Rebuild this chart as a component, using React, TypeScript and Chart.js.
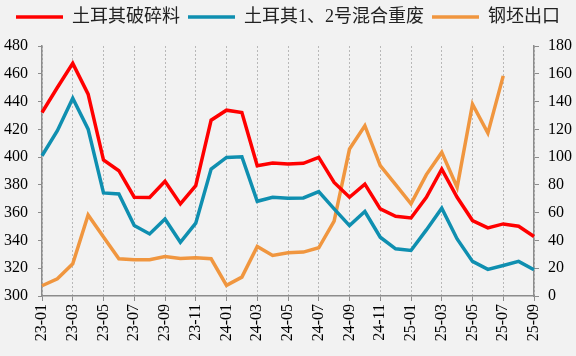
import React, { useEffect, useRef } from "react";
import { Chart, registerables } from "chart.js";

Chart.register(...registerables);

const months: string[] = [
  "23-01", "23-02", "23-03", "23-04", "23-05", "23-06", "23-07", "23-08", "23-09", "23-10", "23-11", "23-12",
  "24-01", "24-02", "24-03", "24-04", "24-05", "24-06", "24-07", "24-08", "24-09", "24-10", "24-11", "24-12",
  "25-01", "25-02", "25-03", "25-04", "25-05", "25-06", "25-07", "25-08", "25-09",
];

const turkishShred: number[] = [
  432.1, 450.1, 467.5, 445.3, 397.9, 390.2, 371.1, 371.0, 382.6, 366.3, 379.4, 426.6,
  433.8, 432.1, 393.8, 395.7, 395.0, 395.5, 399.8, 381.8, 371.1, 380.6, 362.7, 357.4,
  356.2, 371.1, 391.4, 371.1, 354.3, 349.0, 351.9, 350.2, 342.8,
];

const turkishHms: number[] = [
  401.0, 419.0, 442.4, 420.1, 374.2, 373.5, 350.7, 344.7, 355.5, 338.7, 352.4, 391.4,
  399.8, 400.3, 368.2, 371.1, 370.4, 370.6, 375.1, 362.7, 350.7, 360.8, 342.3, 334.0,
  332.8, 347.6, 363.2, 341.1, 324.9, 319.2, 322.0, 324.9, 318.9,
];

const billetExport: (number | null)[] = [
  7.4, 12.4, 23.2, 58.4, 42.4, 26.8, 26.1, 26.1, 28.5, 27.0, 27.5, 26.8,
  7.7, 13.6, 35.7, 29.2, 31.1, 31.6, 34.7, 53.9, 105.8, 122.6, 93.8, 80.2,
  66.3, 87.4, 103.4, 78.3, 138.1, 117.3, 158.5, null, null,
];

const seriesNames = ["土耳其破碎料", "土耳其1、2号混合重废", "钢坯出口"];

const RED = "#FF0000";
const BLUE = "#0F8FB0";
const ORANGE = "#F0963F";
const AXIS = "#8C8C8C";
const GRID = "#B8B8B8";
const SERIF = "'Liberation Serif', 'Times New Roman', serif";

const legendGap = {
  id: "legendGap",
  beforeInit(chart: any) {
    const lg = chart.legend;
    if (!lg || lg.__patched) return;
    const fit = lg.fit;
    lg.fit = function (this: any) {
      fit.call(this);
      this.height += 10;
    };
    lg.__patched = true;
  },
};

export default function App() {
  const ref = useRef<HTMLCanvasElement | null>(null);

  useEffect(() => {
    if (!ref.current) return;
    const line = (label: string, data: (number | null)[], color: string, axis: string) => ({
      label,
      data,
      borderColor: color,
      backgroundColor: color,
      borderWidth: 3.5,
      pointRadius: 0,
      pointHoverRadius: 0,
      tension: 0,
      yAxisID: axis,
      spanGaps: false,
    });
    const chart = new Chart(ref.current, {
      type: "line",
      data: {
        labels: months,
        datasets: [
          line(seriesNames[0], turkishShred, RED, "yL"),
          line(seriesNames[1], turkishHms, BLUE, "yL"),
          line(seriesNames[2], billetExport, ORANGE, "yR"),
        ],
      },
      plugins: [legendGap],
      options: {
        animation: false,
        responsive: false,
        maintainAspectRatio: false,
        layout: { padding: { top: 0, left: 0, right: 0, bottom: 0 } },
        plugins: {
          tooltip: { enabled: false },
          legend: {
            position: "top",
            labels: {
              usePointStyle: true,
              pointStyle: "line",
              pointStyleWidth: 47,
              boxHeight: 18,
              padding: 8,
              color: "#222",
              font: { family: "'Liberation Serif', 'Noto Sans CJK SC', serif", size: 18 },
            },
          },
        },
        scales: {
          x: {
            type: "category",
            offset: false,
            afterFit: (s: any) => {
              s.height = 60;
            },
            grid: {
              display: true,
              drawOnChartArea: true,
              drawTicks: true,
              tickLength: 5,
              lineWidth: 1,
              color: (c: any) => (c.index % 2 === 0 ? GRID : "rgba(0,0,0,0)"),
              tickColor: (c: any) => (c.index % 2 === 0 ? AXIS : "rgba(0,0,0,0)"),
            },
            border: { display: true, color: AXIS, width: 1.5, dash: [2, 2] },
            ticks: {
              autoSkip: false,
              maxRotation: 90,
              minRotation: 90,
              padding: 3,
              color: "#000",
              font: { family: SERIF, size: 16 },
              callback: (_v: any, i: number) => (i % 2 === 0 ? months[i] : ""),
            },
          },
          yL: {
            type: "linear",
            position: "left",
            min: 300,
            max: 480,
            afterFit: (s: any) => {
              s.width = 42;
            },
            grid: {
              display: true,
              drawOnChartArea: false,
              drawTicks: true,
              tickLength: 4,
              tickColor: AXIS,
            },
            border: { display: true, color: AXIS, width: 1.5 },
            ticks: {
              stepSize: 20,
              padding: 10,
              color: "#000",
              font: { family: SERIF, size: 16 },
            },
          },
          yR: {
            type: "linear",
            position: "right",
            min: 0,
            max: 180,
            afterFit: (s: any) => {
              s.width = 42;
            },
            grid: {
              display: true,
              drawOnChartArea: false,
              drawTicks: true,
              tickLength: 5,
              tickColor: AXIS,
            },
            border: { display: true, color: AXIS, width: 1.5 },
            ticks: {
              stepSize: 20,
              padding: 9,
              color: "#000",
              font: { family: SERIF, size: 16 },
            },
          },
        },
      },
    } as any);
    return () => chart.destroy();
  }, []);

  return (
    <div
      style={{
        position: "fixed",
        left: 0,
        top: 0,
        width: 576,
        height: 356,
        background: "#F2F2F2",
      }}
    >
      <canvas ref={ref} width={576} height={356} style={{ display: "block", width: 576, height: 356 }} />
    </div>
  );
}
